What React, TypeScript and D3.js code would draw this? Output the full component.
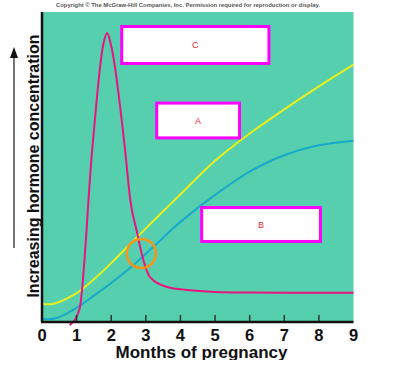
import React from "react";
import * as d3 from "d3";

// months (x) and relative concentration (y, 0-100)
const monthTicks = [0, 1, 2, 3, 4, 5, 6, 7, 8, 9];

const monthsA = [0, 0.3, 1, 1.5, 2, 2.5, 3, 3.5, 4, 5, 6, 7, 8, 9];
const valuesA = [6, 5.8, 9.3, 13.8, 19, 24.6, 30.2, 35.7, 41.2, 52, 60.8, 68.6, 76, 83];

const monthsB = [0, 0.4, 1, 1.5, 2, 2.5, 3, 3.5, 4, 5, 6, 7, 8, 9];
const valuesB = [1, 1.2, 4.6, 8.5, 12.6, 17, 22, 27.2, 32.3, 41, 48.5, 53.8, 57, 58.5];

const monthsC = [0.8, 1.08, 1.45, 1.77, 1.88, 2.0, 2.4, 2.55, 2.75, 2.89, 3.12, 3.62, 4.2, 5, 6, 7, 8, 9];
const valuesC = [-1, 4, 55.5, 89.5, 93.2, 89, 55.5, 39.4, 28.7, 21.6, 14.5, 11.3, 10.3, 9.7, 9.5, 9.4, 9.4, 9.4];

const boxLabels = ["C", "A", "B"];
const highlight = { month: 2.87, value: 22.1 };

const Config = {
  width: 399,
  height: 384,
  plot: { left: 42, right: 353.5, top: 12, bottom: 322 },
  colors: {
    bg: "#56cfae",
    A: "#e8f01c",
    B: "#17a9c9",
    C: "#ea1480",
    box: "#ff00ff",
    text: "#e8252a",
    circle: "#f7941d",
  },
  // label boxes in data coords [m0, m1, v0, v1]
  boxes: [
    [2.26, 6.6, 95.8, 82.9],
    [3.27, 5.75, 71.1, 58.9],
    [4.57, 8.09, 37.4, 25.5],
  ],
};

function Chart() {
  const ref = React.useRef<HTMLDivElement>(null);

  React.useEffect(() => {
    const { plot, colors } = Config;
    const x = d3.scaleLinear().domain([0, 9]).range([plot.left, plot.right]);
    const y = d3.scaleLinear().domain([0, 100]).range([plot.bottom, plot.top]);

    d3.select(ref.current).selectAll("*").remove();

    const svg = d3
      .select(ref.current)
      .append("svg")
      .attr("width", Config.width)
      .attr("height", Config.height)
      .style("position", "absolute")
      .style("left", 0)
      .style("top", 0)
      .style("font-family", "'Liberation Sans', Arial, sans-serif");

    svg
      .append("text")
      .attr("x", 188)
      .attr("y", 6.5)
      .attr("text-anchor", "middle")
      .attr("font-size", 5.5)
      .attr("font-weight", "bold")
      .attr("fill", "#555")
      .attr("textLength", 264)
      .attr("lengthAdjust", "spacingAndGlyphs")
      .text("Copyright \u00a9 The McGraw-Hill Companies, Inc. Permission required for reproduction or display.");

    svg
      .append("rect")
      .attr("x", plot.left)
      .attr("y", plot.top)
      .attr("width", plot.right - plot.left)
      .attr("height", plot.bottom - plot.top)
      .attr("fill", colors.bg);

    const smooth = d3
      .line<[number, number]>()
      .x((d) => x(d[0]))
      .y((d) => y(d[1]))
      .curve(d3.curveCatmullRom.alpha(0.5));
    const mono = d3
      .line<[number, number]>()
      .x((d) => x(d[0]))
      .y((d) => y(d[1]))
      .curve(d3.curveMonotoneX);

    const series: [number[], number[], string, any][] = [
      [monthsA, valuesA, colors.A, smooth],
      [monthsB, valuesB, colors.B, smooth],
      [monthsC, valuesC, colors.C, mono],
    ];
    series.forEach(([ms, vs, c, gen]) => {
      svg
        .append("path")
        .datum(ms.map((m, i) => [m, vs[i]] as [number, number]))
        .attr("fill", "none")
        .attr("stroke", c)
        .attr("stroke-width", 2)
        .attr("stroke-linejoin", "round")
        .attr("d", gen);
    });

    svg
      .append("circle")
      .attr("cx", x(highlight.month))
      .attr("cy", y(highlight.value))
      .attr("r", 14.5)
      .attr("fill", "none")
      .attr("stroke", colors.circle)
      .attr("stroke-width", 2.5);

    // x axis with inward ticks
    const xAxis = svg.append("g").attr("transform", `translate(0,${plot.bottom})`);
    xAxis
      .selectAll("line.tick")
      .data(monthTicks.slice(1, -1))
      .join("line")
      .attr("x1", (d) => x(d))
      .attr("x2", (d) => x(d))
      .attr("y1", 0)
      .attr("y2", -7)
      .attr("stroke", "#333")
      .attr("stroke-width", 1.5);
    xAxis
      .append("line")
      .attr("x1", plot.left - 1)
      .attr("x2", plot.right)
      .attr("stroke", "#111")
      .attr("stroke-width", 2.5);
    xAxis
      .selectAll("text")
      .data(monthTicks)
      .join("text")
      .attr("x", (d) => x(d))
      .attr("y", 19)
      .attr("text-anchor", "middle")
      .attr("font-size", 16.5)
      .attr("font-weight", "bold")
      .attr("fill", "#111")
      .text((d) => d);

    svg
      .append("line")
      .attr("x1", plot.left)
      .attr("x2", plot.left)
      .attr("y1", plot.top)
      .attr("y2", plot.bottom)
      .attr("stroke", "#111")
      .attr("stroke-width", 2.5);

    svg
      .append("text")
      .attr("x", 201.5)
      .attr("y", 357.5)
      .attr("text-anchor", "middle")
      .attr("font-size", 17)
      .attr("font-weight", "bold")
      .attr("fill", "#111")
      .text("Months of pregnancy");
    // the source cuts the descenders off
    svg.append("rect").attr("x", 100).attr("y", 360).attr("width", 200).attr("height", 20).attr("fill", "#fff");

    svg
      .append("text")
      .attr("transform", "translate(38.5,166) rotate(-90)")
      .attr("text-anchor", "middle")
      .attr("font-size", 16)
      .attr("font-weight", "bold")
      .attr("fill", "#111")
      .text("Increasing hormone concentration");

    // arrow
    svg
      .append("line")
      .attr("x1", 14)
      .attr("x2", 14)
      .attr("y1", 248)
      .attr("y2", 56)
      .attr("stroke", "#444")
      .attr("stroke-width", 1.5);
    svg
      .append("path")
      .attr("d", "M14,47 L18,58 L10,58 Z")
      .attr("fill", "#111");

    // label boxes
    Config.boxes.forEach(([m0, m1, v0, v1], i) => {
      const bx = x(m0) + 1.5;
      const by = y(v0) + 1.5;
      const bw = x(m1) - x(m0) - 3;
      const bh = y(v1) - y(v0) - 3;
      svg
        .append("rect")
        .attr("x", bx)
        .attr("y", by)
        .attr("width", bw)
        .attr("height", bh)
        .attr("fill", "#fff")
        .attr("stroke", colors.box)
        .attr("stroke-width", 3);
      svg
        .append("text")
        .attr("x", bx + bw / 2)
        .attr("y", by + bh / 2 + 3)
        .attr("text-anchor", "middle")
        .attr("font-size", 9)
        .attr("fill", colors.text)
        .text(boxLabels[i]);
    });
  }, []);

  return <div ref={ref}></div>;
}

export default function App() {
  return <Chart />;
}
